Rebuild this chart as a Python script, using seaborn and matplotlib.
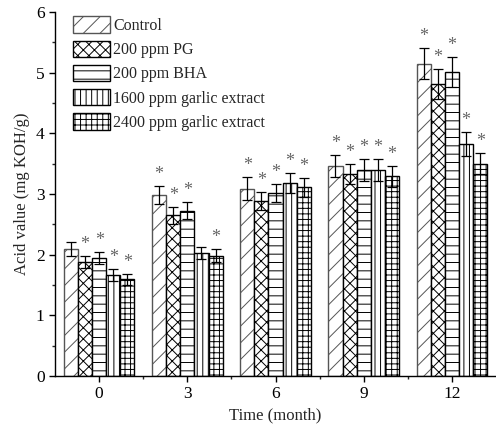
import pandas as pd
import matplotlib
matplotlib.use("Agg")
import matplotlib.pyplot as plt
import seaborn as sns
from matplotlib.patches import Patch
from matplotlib.ticker import MultipleLocator

# dane
miesiace = ["0", "3", "6", "9", "12"]
grupy = ["Control", "200 ppm PG", "200 ppm BHA",
         "1600 ppm garlic extract", "2400 ppm garlic extract"]

control = [2.09, 2.98, 3.09, 3.46, 5.15]
pg = [1.88, 2.65, 2.88, 3.33, 4.81]
bha = [1.94, 2.72, 3.02, 3.40, 5.01]
garlic_1600 = [1.66, 2.03, 3.18, 3.40, 3.82]
garlic_2400 = [1.59, 1.98, 3.11, 3.29, 3.50]

err_control = [0.11, 0.15, 0.19, 0.18, 0.25]
err_pg = [0.10, 0.14, 0.15, 0.16, 0.25]
err_bha = [0.10, 0.14, 0.15, 0.18, 0.25]
err_1600 = [0.10, 0.10, 0.16, 0.18, 0.20]
err_2400 = [0.09, 0.11, 0.16, 0.17, 0.17]

# gwiazdki istotnosci (1 = jest)
gw_control = [0, 1, 1, 1, 1]
gw_pg = [1, 1, 1, 1, 1]
gw_bha = [1, 1, 1, 1, 1]
gw_1600 = [1, 0, 1, 1, 1]
gw_2400 = [1, 1, 1, 1, 1]

wartosci = [control, pg, bha, garlic_1600, garlic_2400]
bledy = [err_control, err_pg, err_bha, err_1600, err_2400]
gwiazdki = [gw_control, gw_pg, gw_bha, gw_1600, gw_2400]

rows = []
for g, vals in zip(grupy, wartosci):
    for m, v in zip(miesiace, vals):
        rows.append({"Miesiac": m, "Grupa": g, "Wartosc": v})
df = pd.DataFrame(rows)

sns.set_style("ticks")
plt.rcParams["font.family"] = ["Liberation Serif", "DejaVu Serif"]
plt.rcParams["hatch.linewidth"] = 0.7

hatches = ["//", "xxx", "--", "|||", "+++"]
edges = ["#555555", "black", "black", "black", "black"]

fig = plt.figure(figsize=(4.96, 4.32), dpi=100)
ax = fig.add_axes([0.111, 0.13, 0.889, 0.842])

sns.barplot(data=df, x="Miesiac", y="Wartosc", hue="Grupa", order=miesiace,
            hue_order=grupy, palette=["white"] * 5, errorbar=None,
            width=0.8, legend=False, ax=ax, saturation=1)

kontenery = list(ax.containers)  # tylko slupki, zanim dojda errorbary
uchwyty = []
for k, cont in enumerate(kontenery):
    xs = []
    for bar in cont.patches:
        bar.set_hatch(hatches[k])
        bar.set_edgecolor(edges[k])
        bar.set_linewidth(1.0)
        xs.append(bar.get_x() + bar.get_width() / 2)
    ax.errorbar(xs, wartosci[k], yerr=bledy[k], fmt="none", ecolor="black",
                elinewidth=0.9, capsize=3.5, capthick=0.9, zorder=4)
    for x, v, e, s in zip(xs, wartosci[k], bledy[k], gwiazdki[k]):
        if s:
            ax.text(x, v + e + 0.05, "*", ha="center", va="bottom",
                    fontsize=13, color="#666666")
    uchwyty.append(Patch(facecolor="white", edgecolor=edges[k],
                         hatch=hatches[k], linewidth=1.0, label=grupy[k]))

ax.legend(handles=uchwyty, loc="upper left", bbox_to_anchor=(0.02, 1.015),
          frameon=False, fontsize=11.5, handlelength=2.3, handleheight=1.2,
          handletextpad=0.2, labelspacing=0.42, borderaxespad=0.2)

ax.set_ylim(0, 6)
ax.set_xlim(-0.5, 4.5)
ax.yaxis.set_major_locator(MultipleLocator(1))
ax.yaxis.set_minor_locator(MultipleLocator(0.5))
ax.set_xticks([0.5, 1.5, 2.5, 3.5], minor=True)
ax.tick_params(axis="both", which="major", direction="out", length=4,
               width=1, labelsize=12.5, colors="black")
ax.tick_params(axis="both", which="minor", direction="out", length=2.5, width=1)
ax.set_xlabel("Time (month)", fontsize=12)
ax.set_ylabel("Acid value (mg KOH/g)", fontsize=12)
sns.despine(ax=ax)
for s in ["left", "bottom"]:
    ax.spines[s].set_linewidth(1.0)
    ax.spines[s].set_color("black")

fig.savefig("out.png", dpi=100)
